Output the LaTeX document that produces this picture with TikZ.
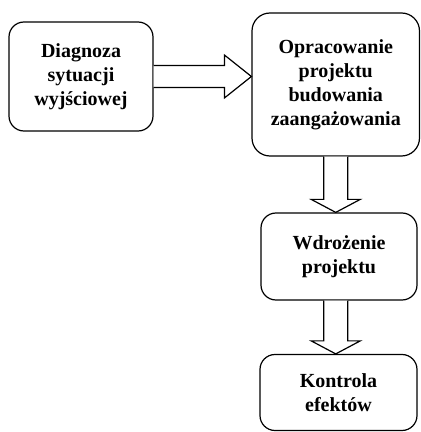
\documentclass[tikz,border=0pt]{standalone}
\usepackage{fontspec}
\setmainfont{Liberation Serif}
\usetikzlibrary{calc}

\begin{document}
\begin{tikzpicture}[
    x=1pt, y=1pt,
    stage/.style={draw, rounded corners=15pt, line width=1.2pt, align=center, inner sep=2pt,
                  font=\bfseries\fontsize{20}{24}\selectfont},
    blk/.style={draw, line width=1.2pt, fill=white, line join=miter}
]
\useasboundingbox (0,0) rectangle (421,432);

\node[stage, minimum width=144pt, minimum height=109pt] (diag) at (81,355.5) {Diagnoza\\sytuacji\\wyjściowej};
\node[stage, minimum width=167.5pt, minimum height=143pt, rounded corners=18pt] (plan) at (335.75,347.5) {Opracowanie\\projektu\\budowania\\zaangażowania};
\node[stage, minimum width=156pt, minimum height=87pt] (impl) at (339,175.5) {Wdrożenie\\projektu};
\node[stage, minimum width=157pt, minimum height=76pt] (ctrl) at (338.5,39.5) {Kontrola\\efektów};

% block arrows
\coordinate (t1) at (plan.west |- diag.east);
\coordinate (t2) at (impl.north -| plan.south);
\coordinate (t3) at (ctrl.north -| plan.south);
\coordinate (s3) at (impl.south -| plan.south);

\draw[blk] ([yshift=11pt]diag.east) -- ($(t1)+(-27,11)$) -- ($(t1)+(-27,21.5)$) -- (t1)
    -- ($(t1)+(-27,-21.5)$) -- ($(t1)+(-27,-11)$) -- ([yshift=-11pt]diag.east);
\draw[blk] ([xshift=-12pt]plan.south) -- ($(t2)+(-12,13)$) -- ($(t2)+(-24.5,13)$) -- (t2)
    -- ($(t2)+(24.5,13)$) -- ($(t2)+(12,13)$) -- ([xshift=12pt]plan.south);
\draw[blk] ($(s3)+(-12,0)$) -- ($(t3)+(-12,13)$) -- ($(t3)+(-24.5,13)$) -- (t3)
    -- ($(t3)+(24.5,13)$) -- ($(t3)+(12,13)$) -- ($(s3)+(12,0)$);
\end{tikzpicture}
\end{document}
